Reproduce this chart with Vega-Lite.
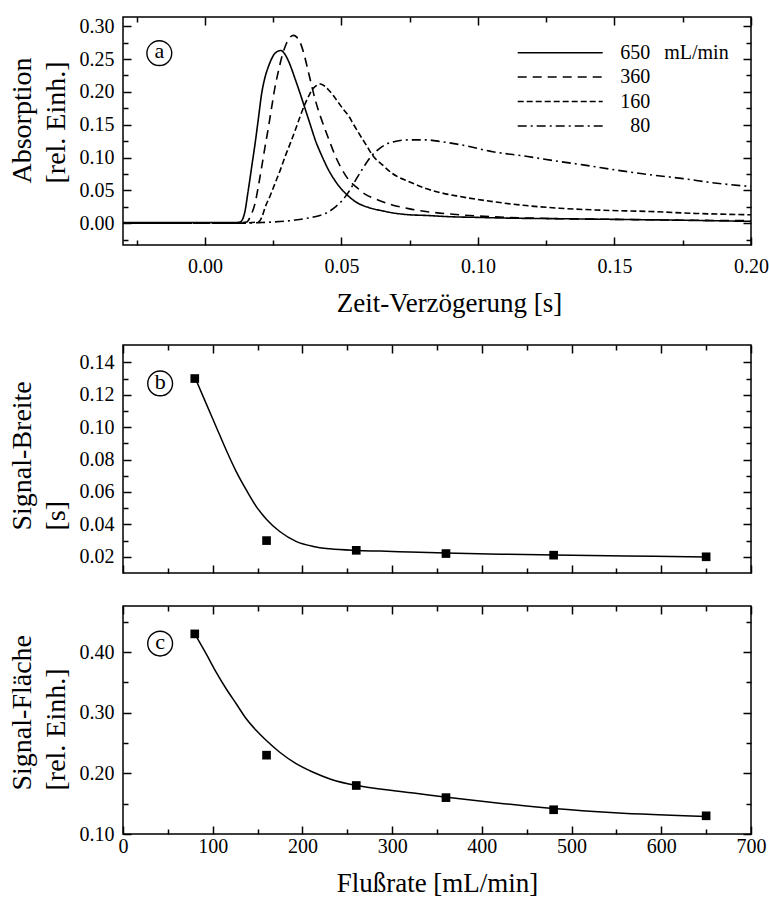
{
  "$schema": "https://vega.github.io/schema/vega-lite/v6.json",
  "padding": {"top": 15, "left": 7, "right": 5, "bottom": 5},
  "background": "white",
  "datasets": {
    "curves": [
      {"s":"650","t":-0.03,"A":0.001},{"s":"650","t":-0.02,"A":0.001},{"s":"650","t":-0.01,"A":0.001},{"s":"650","t":0.0,"A":0.001},{"s":"650","t":0.01,"A":0.001},
      {"s":"650","t":0.0129,"A":0.002},{"s":"650","t":0.0145,"A":0.015},{"s":"650","t":0.0159,"A":0.051},{"s":"650","t":0.0172,"A":0.088},{"s":"650","t":0.0184,"A":0.122},
      {"s":"650","t":0.0196,"A":0.160},{"s":"650","t":0.0208,"A":0.198},{"s":"650","t":0.0220,"A":0.222},{"s":"650","t":0.0233,"A":0.239},{"s":"650","t":0.0245,"A":0.251},
      {"s":"650","t":0.0257,"A":0.259},{"s":"650","t":0.0278,"A":0.263},{"s":"650","t":0.0292,"A":0.258},{"s":"650","t":0.0306,"A":0.247},{"s":"650","t":0.0331,"A":0.219},
      {"s":"650","t":0.0350,"A":0.196},{"s":"650","t":0.0368,"A":0.173},{"s":"650","t":0.0386,"A":0.150},{"s":"650","t":0.0404,"A":0.127},{"s":"650","t":0.0430,"A":0.101},
      {"s":"650","t":0.0453,"A":0.081},{"s":"650","t":0.0478,"A":0.064},{"s":"650","t":0.0502,"A":0.051},{"s":"650","t":0.0527,"A":0.041},{"s":"650","t":0.0551,"A":0.033},
      {"s":"650","t":0.0600,"A":0.024},{"s":"650","t":0.0650,"A":0.019},{"s":"650","t":0.0686,"A":0.016},{"s":"650","t":0.0750,"A":0.013},{"s":"650","t":0.0809,"A":0.012},
      {"s":"650","t":0.0900,"A":0.010},{"s":"650","t":0.1000,"A":0.009},{"s":"650","t":0.1100,"A":0.008},{"s":"650","t":0.1300,"A":0.007},{"s":"650","t":0.1500,"A":0.006},
      {"s":"650","t":0.1700,"A":0.005},{"s":"650","t":0.1850,"A":0.004},{"s":"650","t":0.2000,"A":0.003},

      {"s":"360","t":-0.03,"A":0.0},{"s":"360","t":-0.02,"A":0.0},{"s":"360","t":-0.01,"A":0.0},{"s":"360","t":0.0,"A":0.0},{"s":"360","t":0.01,"A":0.0},
      {"s":"360","t":0.0153,"A":0.002},{"s":"360","t":0.0168,"A":0.012},{"s":"360","t":0.0184,"A":0.031},{"s":"360","t":0.0196,"A":0.057},{"s":"360","t":0.0208,"A":0.086},
      {"s":"360","t":0.0220,"A":0.116},{"s":"360","t":0.0233,"A":0.147},{"s":"360","t":0.0245,"A":0.178},{"s":"360","t":0.0257,"A":0.208},{"s":"360","t":0.0270,"A":0.233},
      {"s":"360","t":0.0282,"A":0.254},{"s":"360","t":0.0294,"A":0.269},{"s":"360","t":0.0306,"A":0.280},{"s":"360","t":0.0325,"A":0.286},{"s":"360","t":0.0337,"A":0.283},
      {"s":"360","t":0.0349,"A":0.275},{"s":"360","t":0.0362,"A":0.259},{"s":"360","t":0.0374,"A":0.239},{"s":"360","t":0.0389,"A":0.213},{"s":"360","t":0.0404,"A":0.188},
      {"s":"360","t":0.0422,"A":0.164},{"s":"360","t":0.0441,"A":0.142},{"s":"360","t":0.0460,"A":0.121},{"s":"360","t":0.0478,"A":0.102},{"s":"360","t":0.0502,"A":0.082},
      {"s":"360","t":0.0527,"A":0.066},{"s":"360","t":0.0555,"A":0.055},{"s":"360","t":0.0588,"A":0.044},{"s":"360","t":0.0625,"A":0.037},{"s":"360","t":0.0686,"A":0.028},
      {"s":"360","t":0.0750,"A":0.022},{"s":"360","t":0.0809,"A":0.018},{"s":"360","t":0.0931,"A":0.013},{"s":"360","t":0.1115,"A":0.009},{"s":"360","t":0.1299,"A":0.007},
      {"s":"360","t":0.1500,"A":0.006},{"s":"360","t":0.1700,"A":0.005},{"s":"360","t":0.2000,"A":0.004},

      {"s":"160","t":-0.03,"A":0.0},{"s":"160","t":-0.02,"A":0.0},{"s":"160","t":-0.01,"A":0.0},{"s":"160","t":0.0,"A":0.0},{"s":"160","t":0.01,"A":0.0},
      {"s":"160","t":0.0196,"A":0.002},{"s":"160","t":0.0209,"A":0.010},{"s":"160","t":0.0221,"A":0.025},{"s":"160","t":0.0239,"A":0.042},{"s":"160","t":0.0257,"A":0.061},
      {"s":"160","t":0.0276,"A":0.081},{"s":"160","t":0.0294,"A":0.102},{"s":"160","t":0.0313,"A":0.122},{"s":"160","t":0.0331,"A":0.142},{"s":"160","t":0.0349,"A":0.163},
      {"s":"160","t":0.0368,"A":0.183},{"s":"160","t":0.0383,"A":0.196},{"s":"160","t":0.0398,"A":0.206},{"s":"160","t":0.0410,"A":0.210},{"s":"160","t":0.0423,"A":0.212},
      {"s":"160","t":0.0438,"A":0.209},{"s":"160","t":0.0453,"A":0.203},{"s":"160","t":0.0471,"A":0.194},{"s":"160","t":0.0490,"A":0.183},{"s":"160","t":0.0508,"A":0.173},
      {"s":"160","t":0.0527,"A":0.163},{"s":"160","t":0.0545,"A":0.150},{"s":"160","t":0.0564,"A":0.137},{"s":"160","t":0.0594,"A":0.117},{"s":"160","t":0.0613,"A":0.104},
      {"s":"160","t":0.0650,"A":0.089},{"s":"160","t":0.0686,"A":0.076},{"s":"160","t":0.0750,"A":0.063},{"s":"160","t":0.0809,"A":0.053},{"s":"160","t":0.0870,"A":0.046},
      {"s":"160","t":0.0931,"A":0.041},{"s":"160","t":0.1054,"A":0.033},{"s":"160","t":0.1176,"A":0.027},{"s":"160","t":0.1299,"A":0.023},{"s":"160","t":0.1450,"A":0.020},
      {"s":"160","t":0.1630,"A":0.018},{"s":"160","t":0.1800,"A":0.015},{"s":"160","t":0.2000,"A":0.013},

      {"s":"80","t":-0.03,"A":0.0},{"s":"80","t":-0.02,"A":0.0},{"s":"80","t":-0.01,"A":0.0},{"s":"80","t":0.0,"A":0.0},{"s":"80","t":0.01,"A":0.0},
      {"s":"80","t":0.0200,"A":0.001},{"s":"80","t":0.0331,"A":0.005},{"s":"80","t":0.0390,"A":0.009},{"s":"80","t":0.0429,"A":0.013},{"s":"80","t":0.0455,"A":0.018},
      {"s":"80","t":0.0478,"A":0.025},{"s":"80","t":0.0497,"A":0.032},{"s":"80","t":0.0515,"A":0.041},{"s":"80","t":0.0533,"A":0.052},{"s":"80","t":0.0551,"A":0.065},
      {"s":"80","t":0.0570,"A":0.078},{"s":"80","t":0.0588,"A":0.090},{"s":"80","t":0.0613,"A":0.104},{"s":"80","t":0.0637,"A":0.113},{"s":"80","t":0.0662,"A":0.120},
      {"s":"80","t":0.0700,"A":0.125},{"s":"80","t":0.0747,"A":0.127},{"s":"80","t":0.0809,"A":0.127},{"s":"80","t":0.0870,"A":0.124},{"s":"80","t":0.0931,"A":0.120},
      {"s":"80","t":0.1054,"A":0.109},{"s":"80","t":0.1176,"A":0.102},{"s":"80","t":0.1299,"A":0.094},{"s":"80","t":0.1385,"A":0.089},{"s":"80","t":0.1507,"A":0.081},
      {"s":"80","t":0.1630,"A":0.074},{"s":"80","t":0.1752,"A":0.068},{"s":"80","t":0.1875,"A":0.061},{"s":"80","t":0.2000,"A":0.056}
    ],
    "widthPts": [
      {"f":80,"w":0.130},{"f":160,"w":0.030},{"f":260,"w":0.024},{"f":360,"w":0.022},{"f":480,"w":0.021},{"f":650,"w":0.020}
    ],
    "widthFit": [
      {"f":80,"w":0.131},{"f":92.6,"w":0.1147},{"f":103.8,"w":0.1003},{"f":115,"w":0.0859},{"f":126.2,"w":0.0726},{"f":137.4,"w":0.0613},
      {"f":148.6,"w":0.0510},{"f":159.8,"w":0.0432},{"f":174.7,"w":0.0356},{"f":193.4,"w":0.0294},{"f":212,"w":0.0264},{"f":230.7,"w":0.0249},
      {"f":260.6,"w":0.0239},{"f":286.7,"w":0.0235},{"f":320,"w":0.0229},{"f":360,"w":0.0223},{"f":420,"w":0.0216},{"f":480,"w":0.0211},
      {"f":560,"w":0.0205},{"f":650,"w":0.0199}
    ],
    "areaPts": [
      {"f":80,"a":0.43},{"f":160,"a":0.23},{"f":260,"a":0.18},{"f":360,"a":0.16},{"f":480,"a":0.14},{"f":650,"a":0.13}
    ],
    "areaFit": [
      {"f":80,"a":0.430},{"f":92.6,"a":0.3974},{"f":103.8,"a":0.367},{"f":115,"a":0.3395},{"f":126.2,"a":0.3148},{"f":137.4,"a":0.290},
      {"f":148.6,"a":0.2706},{"f":159.8,"a":0.2541},{"f":174.7,"a":0.2348},{"f":193.4,"a":0.2156},{"f":212,"a":0.2018},{"f":230.7,"a":0.1908},
      {"f":260.6,"a":0.1798},{"f":286.7,"a":0.1742},{"f":324,"a":0.1675},{"f":361,"a":0.1605},{"f":417,"a":0.1512},{"f":480,"a":0.1420},
      {"f":548,"a":0.1350},{"f":650,"a":0.1290}
    ]
  },
  "spacing": 26,
  "vconcat": [
    {
      "width": 628,
      "height": 228,
      "layer": [
        {
          "data": {"name": "curves"},
          "mark": {"type": "line", "interpolate": "monotone", "color": "black", "strokeWidth": 1.6},
          "encoding": {
            "x": {
              "field": "t", "type": "quantitative",
              "scale": {"domain": [-0.03, 0.2], "nice": false, "zero": false},
              "axis": {
                "orient": "bottom",
                "values": [-0.025, 0, 0.025, 0.05, 0.075, 0.1, 0.125, 0.15, 0.175, 0.2],
                "labelExpr": "abs(datum.value*20 - round(datum.value*20)) < 0.001 ? format(datum.value, '.2f') : ''",
                "tickSize": {"condition": {"test": "abs(datum.value*20 - round(datum.value*20)) < 0.001", "value": -8}, "value": -5},
                "labelPadding": 19,
                "title": "Zeit-Verzögerung [s]",
                "titleFontSize": 27,
                "titleX": 326,
                "titlePadding": 11
              }
            },
            "y": {
              "field": "A", "type": "quantitative",
              "scale": {"domain": [-0.033, 0.314], "nice": false, "zero": false},
              "axis": {
                "orient": "left",
                "values": [-0.025, 0, 0.025, 0.05, 0.075, 0.1, 0.125, 0.15, 0.175, 0.2, 0.225, 0.25, 0.275, 0.3],
                "labelExpr": "abs(datum.value*20 - round(datum.value*20)) < 0.001 ? format(datum.value, '.2f') : ''",
                "tickSize": {"condition": {"test": "abs(datum.value*20 - round(datum.value*20)) < 0.001", "value": -8}, "value": -5},
                "labelPadding": 17,
                "title": ["Absorption", "[rel. Einh.]"],
                "titleAlign": "left",
                "titleY": 166,
                "titlePadding": 9
              }
            },
            "strokeDash": {
              "field": "s", "type": "nominal",
              "scale": {"domain": ["650", "360", "160", "80"], "range": [[1, 0], [9, 6], [6, 3], [9, 4, 2, 4]]},
              "legend": {
                "orient": "none",
                "legendX": 394.7,
                "legendY": 25.7,
                "title": null,
                "padding": 0,
                "symbolType": "M-8.5,0H8.5",
                "symbolSize": 100,
                "symbolStrokeColor": "black",
                "symbolStrokeWidth": 1.5,
                "symbolOffset": 32.5,
                "labelOffset": {"expr": "datum.value == '80' ? 60 : 50"},
                "labelFontSize": 20,
                "labelFont": "Liberation Serif",
                "labelColor": "black",
                "rowPadding": 4.4,
                "labelExpr": "datum.label == '650' ? '650\u2002\u2009mL/min' : datum.label"
              }
            }
          }
        },
        {
          "data": {"values": [{}]},
          "mark": {"type": "point", "shape": "circle", "filled": false, "size": 615, "stroke": "black", "strokeWidth": 1.4, "opacity": 1},
          "encoding": {
            "x": {
              "datum": -0.0167, "type": "quantitative",
              "axis": {
                "orient": "top", "labels": false, "title": null,
                "values": [-0.025, 0, 0.025, 0.05, 0.075, 0.1, 0.125, 0.15, 0.175, 0.2],
                "tickSize": {"condition": {"test": "abs(datum.value*20 - round(datum.value*20)) < 0.001", "value": -8}, "value": -5}
              }
            },
            "y": {
              "datum": 0.259, "type": "quantitative",
              "axis": {
                "orient": "right", "labels": false, "title": null,
                "values": [-0.025, 0, 0.025, 0.05, 0.075, 0.1, 0.125, 0.15, 0.175, 0.2, 0.225, 0.25, 0.275, 0.3],
                "tickSize": {"condition": {"test": "abs(datum.value*20 - round(datum.value*20)) < 0.001", "value": -8}, "value": -5}
              }
            }
          }
        },
        {
          "data": {"values": [{}]},
          "mark": {"type": "text", "text": "a", "fontSize": 22, "font": "Liberation Serif", "align": "center", "baseline": "middle", "dy": -2, "color": "black"},
          "encoding": {
            "x": {"datum": -0.0167, "type": "quantitative", "axis": null},
            "y": {"datum": 0.259, "type": "quantitative", "axis": null}
          }
        }
      ]
    },
    {
      "spacing": 29,
      "vconcat": [
        {
          "width": 628,
          "height": 228,
          "layer": [
            {
              "data": {"name": "widthFit"},
              "mark": {"type": "line", "interpolate": "monotone", "color": "black", "strokeWidth": 1.5},
              "encoding": {
                "x": {
                  "field": "f", "type": "quantitative",
                  "scale": {"domain": [0, 700], "nice": false, "zero": false},
                  "axis": {
                    "orient": "bottom", "labels": false, "title": null,
                    "values": [0, 50, 100, 150, 200, 250, 300, 350, 400, 450, 500, 550, 600, 650, 700],
                    "tickSize": {"condition": {"test": "datum.value % 100 == 0", "value": -8}, "value": -5}
                  }
                },
                "y": {
                  "field": "w", "type": "quantitative",
                  "scale": {"domain": [0.01, 0.1507], "nice": false, "zero": false},
                  "axis": {
                    "orient": "left",
                    "values": [0.02, 0.03, 0.04, 0.05, 0.06, 0.07, 0.08, 0.09, 0.1, 0.11, 0.12, 0.13, 0.14],
                    "labelExpr": "abs(datum.value*50 - round(datum.value*50)) < 0.001 ? format(datum.value, '.2f') : ''",
                    "tickSize": {"condition": {"test": "abs(datum.value*50 - round(datum.value*50)) < 0.001", "value": -8}, "value": -5},
                    "labelPadding": 17,
                    "title": ["Signal-Breite", "[s]"],
                    "titleAlign": "left",
                    "titleY": 185,
                    "titlePadding": 9
                  }
                }
              }
            },
            {
              "data": {"name": "widthPts"},
              "mark": {"type": "point", "shape": "square", "filled": true, "size": 75, "color": "black", "opacity": 1},
              "encoding": {
                "x": {
                  "field": "f", "type": "quantitative",
                  "axis": {
                    "orient": "top", "labels": false, "title": null,
                    "values": [0, 50, 100, 150, 200, 250, 300, 350, 400, 450, 500, 550, 600, 650, 700],
                    "tickSize": {"condition": {"test": "datum.value % 100 == 0", "value": -8}, "value": -5}
                  }
                },
                "y": {
                  "field": "w", "type": "quantitative",
                  "axis": {
                    "orient": "right", "labels": false, "title": null,
                    "values": [0.02, 0.03, 0.04, 0.05, 0.06, 0.07, 0.08, 0.09, 0.1, 0.11, 0.12, 0.13, 0.14],
                    "tickSize": {"condition": {"test": "abs(datum.value*50 - round(datum.value*50)) < 0.001", "value": -8}, "value": -5}
                  }
                }
              }
            },
            {
              "data": {"values": [{}]},
              "mark": {"type": "point", "shape": "circle", "filled": false, "size": 615, "stroke": "black", "strokeWidth": 1.4, "opacity": 1},
              "encoding": {
                "x": {"datum": 41.4, "type": "quantitative", "axis": null},
                "y": {"datum": 0.127, "type": "quantitative", "axis": null}
              }
            },
            {
              "data": {"values": [{}]},
              "mark": {"type": "text", "text": "b", "fontSize": 22, "font": "Liberation Serif", "align": "center", "baseline": "middle", "dy": -1, "color": "black"},
              "encoding": {
                "x": {"datum": 41.4, "type": "quantitative", "axis": null},
                "y": {"datum": 0.127, "type": "quantitative", "axis": null}
              }
            }
          ]
        },
        {
          "width": 628,
          "height": 228,
          "layer": [
            {
              "data": {"name": "areaFit"},
              "mark": {"type": "line", "interpolate": "monotone", "color": "black", "strokeWidth": 1.5},
              "encoding": {
                "x": {
                  "field": "f", "type": "quantitative",
                  "scale": {"domain": [0, 700], "nice": false, "zero": false},
                  "axis": {
                    "orient": "bottom",
                    "values": [0, 50, 100, 150, 200, 250, 300, 350, 400, 450, 500, 550, 600, 650, 700],
                    "labelExpr": "datum.value % 100 == 0 ? format(datum.value, 'd') : ''",
                    "tickSize": {"condition": {"test": "datum.value % 100 == 0", "value": -8}, "value": -5},
                    "labelPadding": 10,
                    "title": "Flußrate [mL/min]",
                    "titleFontSize": 27,
                    "titlePadding": 11
                  }
                },
                "y": {
                  "field": "a", "type": "quantitative",
                  "scale": {"domain": [0.1, 0.476], "nice": false, "zero": false},
                  "axis": {
                    "orient": "left",
                    "values": [0.1, 0.15, 0.2, 0.25, 0.3, 0.35, 0.4, 0.45],
                    "labelExpr": "abs(datum.value*10 - round(datum.value*10)) < 0.001 ? format(datum.value, '.2f') : ''",
                    "tickSize": {"condition": {"test": "abs(datum.value*10 - round(datum.value*10)) < 0.001", "value": -8}, "value": -5},
                    "labelPadding": 17,
                    "title": ["Signal-Fläche", "[rel. Einh.]"],
                    "titleAlign": "left",
                    "titleY": 184,
                    "titlePadding": 9
                  }
                }
              }
            },
            {
              "data": {"name": "areaPts"},
              "mark": {"type": "point", "shape": "square", "filled": true, "size": 75, "color": "black", "opacity": 1},
              "encoding": {
                "x": {
                  "field": "f", "type": "quantitative",
                  "axis": {
                    "orient": "top", "labels": false, "title": null,
                    "values": [0, 50, 100, 150, 200, 250, 300, 350, 400, 450, 500, 550, 600, 650, 700],
                    "tickSize": {"condition": {"test": "datum.value % 100 == 0", "value": -8}, "value": -5}
                  }
                },
                "y": {
                  "field": "a", "type": "quantitative",
                  "axis": {
                    "orient": "right", "labels": false, "title": null,
                    "values": [0.1, 0.15, 0.2, 0.25, 0.3, 0.35, 0.4, 0.45],
                    "tickSize": {"condition": {"test": "abs(datum.value*10 - round(datum.value*10)) < 0.001", "value": -8}, "value": -5}
                  }
                }
              }
            },
            {
              "data": {"values": [{}]},
              "mark": {"type": "point", "shape": "circle", "filled": false, "size": 615, "stroke": "black", "strokeWidth": 1.4, "opacity": 1},
              "encoding": {
                "x": {"datum": 41.4, "type": "quantitative", "axis": null},
                "y": {"datum": 0.414, "type": "quantitative", "axis": null}
              }
            },
            {
              "data": {"values": [{}]},
              "mark": {"type": "text", "text": "c", "fontSize": 22, "font": "Liberation Serif", "align": "center", "baseline": "middle", "dy": -2, "color": "black"},
              "encoding": {
                "x": {"datum": 41.4, "type": "quantitative", "axis": null},
                "y": {"datum": 0.414, "type": "quantitative", "axis": null}
              }
            }
          ]
        }
      ]
    }
  ],
  "config": {
    "font": "Liberation Serif",
    "view": {"stroke": "black", "strokeWidth": 1.5},
    "axis": {
      "domain": false,
      "grid": false,
      "labelFont": "Liberation Serif",
      "labelFontSize": 20,
      "labelColor": "black",
      "labelFlush": false,
      "labelOverlap": false,
      "labelBound": false,
      "titleFont": "Liberation Serif",
      "titleFontSize": 28,
      "titleFontWeight": "normal",
      "titleColor": "black",
      "titleLineHeight": 34,
      "tickColor": "black",
      "tickWidth": 1.5
    }
  }
}
